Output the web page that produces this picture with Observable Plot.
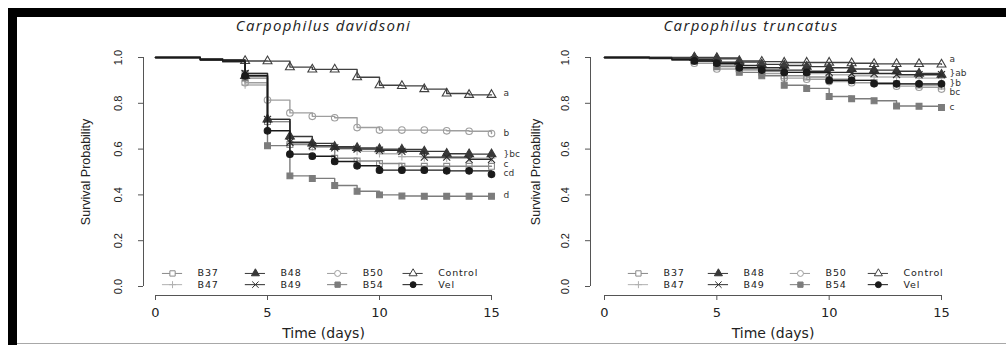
<!DOCTYPE html>
<html>
<head>
<meta charset="utf-8">
<script src="https://cdn.jsdelivr.net/npm/d3@7"></script>
<script src="https://cdn.jsdelivr.net/npm/@observablehq/plot@0.6"></script>
<style>
  html, body { margin: 0; padding: 0; background: #ffffff; }
  #wrap { position: relative; width: 1006px; height: 345px; background: #ffffff; overflow: hidden; }
  .band { position: absolute; background: #000; }
  .panel { position: absolute; top: 0; }
</style>
</head>
<body>
<div id="wrap">
  <div class="band" style="left:8px;top:8px;width:998px;height:9px;"></div>
  <div class="band" style="left:8px;top:8px;width:9px;height:337px;"></div>
  <div class="band" style="left:17px;top:343px;width:989px;height:1px;background:#a8a8a8;"></div>
  <div id="p1" class="panel" style="left:0px;"></div>
  <div id="p2" class="panel" style="left:500px;"></div>
</div>
<script>
// ---------- data ----------
const days = [0, 1, 2, 3, 4, 5, 6, 7, 8, 9, 10, 11, 12, 13, 14, 15];
const groups = ["B37", "B47", "B48", "B49", "B50", "B54", "Control", "Vel"];
const xTicks = [0, 5, 10, 15];
const yTicks = [0, 0.2, 0.4, 0.6, 0.8, 1.0];
const xTickLabels = ["0", "5", "10", "15"];
const yTickLabels = ["0.0", "0.2", "0.4", "0.6", "0.8", "1.0"];

const titleDav = "Carpophilus davidsoni";
const titleTru = "Carpophilus truncatus";
const xLabel = "Time (days)";
const yLabel = "Survival Probability";

// Carpophilus davidsoni – survival at each day
const dav_B37     = [1, 1, 0.99, 0.985, 0.93, 0.72, 0.62, 0.61, 0.56, 0.548, 0.537, 0.525, 0.525, 0.525, 0.525, 0.525];
const dav_B47     = [1, 1, 0.99, 0.985, 0.88, 0.72, 0.625, 0.61, 0.60, 0.59, 0.58, 0.567, 0.562, 0.56, 0.56, 0.56];
const dav_B48     = [1, 1, 0.99, 0.985, 0.92, 0.73, 0.655, 0.625, 0.61, 0.605, 0.60, 0.598, 0.59, 0.58, 0.578, 0.578];
const dav_B49     = [1, 1, 0.99, 0.985, 0.93, 0.73, 0.63, 0.615, 0.605, 0.60, 0.595, 0.59, 0.565, 0.565, 0.555, 0.555];
const dav_B50     = [1, 1, 0.99, 0.985, 0.89, 0.814, 0.758, 0.743, 0.737, 0.694, 0.683, 0.683, 0.683, 0.68, 0.678, 0.668];
const dav_B54     = [1, 1, 0.99, 0.98, 0.91, 0.615, 0.483, 0.472, 0.441, 0.416, 0.40, 0.395, 0.394, 0.394, 0.394, 0.394];
const dav_Control = [1, 1, 0.995, 0.99, 0.985, 0.984, 0.958, 0.948, 0.948, 0.914, 0.879, 0.876, 0.862, 0.843, 0.837, 0.837];
const dav_Vel     = [1, 1, 0.99, 0.985, 0.92, 0.68, 0.578, 0.569, 0.546, 0.527, 0.508, 0.508, 0.508, 0.505, 0.505, 0.49];

// Carpophilus truncatus – survival at each day
const tru_B37     = [1, 1, 0.998, 0.995, 0.985, 0.97, 0.95, 0.94, 0.92, 0.915, 0.905, 0.90, 0.89, 0.885, 0.88, 0.875];
const tru_B47     = [1, 1, 0.998, 0.995, 0.985, 0.965, 0.955, 0.945, 0.935, 0.93, 0.925, 0.92, 0.915, 0.915, 0.91, 0.91];
const tru_B48     = [1, 1, 1, 1, 1, 0.998, 0.98, 0.97, 0.965, 0.96, 0.955, 0.95, 0.945, 0.94, 0.93, 0.925];
const tru_B49     = [1, 1, 0.998, 0.995, 0.99, 0.98, 0.965, 0.955, 0.945, 0.94, 0.935, 0.93, 0.93, 0.925, 0.925, 0.925];
const tru_B50     = [1, 1, 0.995, 0.99, 0.975, 0.95, 0.945, 0.93, 0.91, 0.905, 0.895, 0.89, 0.885, 0.875, 0.87, 0.862];
const tru_B54     = [1, 1, 0.995, 0.99, 0.985, 0.96, 0.935, 0.92, 0.879, 0.865, 0.83, 0.82, 0.811, 0.788, 0.787, 0.782];
const tru_Control = [1, 1, 1, 0.998, 0.998, 0.994, 0.985, 0.982, 0.978, 0.978, 0.978, 0.975, 0.972, 0.972, 0.972, 0.97];
const tru_Vel     = [1, 1, 0.998, 0.99, 0.985, 0.975, 0.955, 0.945, 0.935, 0.935, 0.90, 0.90, 0.886, 0.885, 0.885, 0.885];

// significance letters and the survival level they sit at
const dav_letters  = ["a", "b", "}bc", "c", "cd", "d"];
const dav_letterY  = [0.843, 0.672, 0.576, 0.536, 0.494, 0.40];
const tru_letters  = ["a", "}ab", "}b", "bc", "c"];
const tru_letterY  = [0.991, 0.934, 0.889, 0.849, 0.782];

// legend order (column-major, 4 columns x 2 rows)
const legendOrder = ["B37", "B47", "B48", "B49", "B50", "B54", "Control", "Vel"];

// ---------- styles ----------
const styleMap = {
  B37:     {color: "#8a8a8a", symbol: "square",   filled: false},
  B47:     {color: "#b0b0b0", symbol: "plus",     filled: false},
  B48:     {color: "#383838", symbol: "triangle", filled: true},
  B49:     {color: "#2c2c2c", symbol: "times",    filled: false},
  B50:     {color: "#9e9e9e", symbol: "circle",   filled: false},
  B54:     {color: "#7c7c7c", symbol: "square",   filled: true},
  Control: {color: "#404040", symbol: "triangle", filled: false},
  Vel:     {color: "#1a1a1a", symbol: "circle",   filled: true}
};
const drawOrder = ["B47", "B50", "B37", "B54", "B48", "B49", "Control", "Vel"];

function rowsFor(series) {
  const out = [];
  groups.forEach(g => {
    series[g].forEach((v, i) => out.push({day: days[i], s: v, group: g}));
  });
  return out;
}

const davSeries = {B37: dav_B37, B47: dav_B47, B48: dav_B48, B49: dav_B49, B50: dav_B50, B54: dav_B54, Control: dav_Control, Vel: dav_Vel};
const truSeries = {B37: tru_B37, B47: tru_B47, B48: tru_B48, B49: tru_B49, B50: tru_B50, B54: tru_B54, Control: tru_Control, Vel: tru_Vel};

const SANS = "'Liberation Sans', Arial, sans-serif";
const WIDE = "'DejaVu Sans', 'Liberation Sans', sans-serif";
const INK = "#222222";

function panel(cfg) {
  const rows = rowsFor(cfg.series);
  const marks = [];

  // survival step curves + markers
  drawOrder.forEach(g => {
    const st = styleMap[g];
    const gr = rows.filter(d => d.group === g);
    marks.push(Plot.line(gr, {x: "day", y: "s", stroke: st.color, strokeWidth: 1.4, curve: "step-after"}));
    marks.push(Plot.dot(gr.filter(d => d.day >= 4), {
      x: "day", y: "s", symbol: st.symbol, r: st.symbol === "plus" ? 2.6 : 3.3,
      fill: st.filled ? st.color : "none", stroke: st.color, strokeWidth: 1.1
    }));
  });

  // axes (R style, detached)
  marks.push(Plot.ruleX([0], {x: d => d, y1: 0, y2: 1, dx: cfg.yAxisDx, stroke: "#555", strokeWidth: 1}));
  marks.push(Plot.ruleY(yTicks, {y: d => d, x1: 0, x2: 0, dx: cfg.yAxisDx, insetLeft: -5, insetRight: 0, stroke: "#555"}));
  marks.push(Plot.text(yTicks, {x: 0, y: d => d, dx: cfg.yTickDx, rotate: -90,
    text: (d, i) => yTickLabels[i], fontSize: 11, fontFamily: SANS, fill: INK}));
  marks.push(Plot.ruleY([0], {y: d => d, x1: 0, x2: 15, dy: 9, stroke: "#555"}));
  marks.push(Plot.ruleX(xTicks, {x: d => d, y1: 0, y2: 0, dy: 9, insetTop: 0, insetBottom: -5, stroke: "#555"}));
  marks.push(Plot.text(xTicks, {x: d => d, y: 0, dy: 26,
    text: (d, i) => xTickLabels[i], fontSize: 13, fontFamily: WIDE, fill: INK}));

  // labels
  marks.push(Plot.text([xLabel], {x: 7.5, y: 0, dy: 47, fontSize: 14, fontFamily: WIDE, fill: INK}));
  marks.push(Plot.text([yLabel], {x: 0, y: 0.5, dx: cfg.yLabelDx, rotate: -90, fontSize: 12.5, fontFamily: SANS, fill: INK}));
  marks.push(Plot.text([cfg.title], {x: 7.5, y: 1, dy: -31, dx: cfg.titleDx, fontSize: 15, fontStyle: "italic",
    fontFamily: "'Open Sans', 'Noto Sans', sans-serif", fill: INK}));

  // letters
  marks.push(Plot.text(cfg.letters, {x: 15, y: (d, i) => cfg.letterY[i], text: d => d, textAnchor: "start",
    dx: cfg.letterDx, fontSize: 9, fontFamily: WIDE, fill: "#333"}));

  // legend
  const leg = legendOrder.map((g, i) => ({g, col: Math.floor(i / 2), row: i % 2}));
  const lx = d => cfg.legendCols[d.col];
  const ly = d => cfg.legendRows[d.row];
  leg.forEach(d => {
    const st = styleMap[d.g];
    marks.push(Plot.ruleY([d], {y: ly, x1: d2 => lx(d2) - 0.45, x2: d2 => lx(d2) + 0.45, stroke: st.color, strokeWidth: 1}));
    marks.push(Plot.dot([d], {x: lx, y: ly, symbol: st.symbol, r: st.symbol === "plus" ? 2.4 : 3,
      fill: st.filled ? st.color : "white", stroke: st.color, strokeWidth: 1}));
  });
  marks.push(Plot.text(leg, {x: d => lx(d) + cfg.legendTextGap, y: ly, text: "g", textAnchor: "start",
    fontSize: 9.5, fontFamily: WIDE, fill: INK}));

  const svg = Plot.plot({
    width: cfg.width, height: 345,
    marginLeft: cfg.marginLeft, marginRight: cfg.marginRight, marginTop: 57, marginBottom: 59,
    x: {domain: [0, 15], axis: null},
    y: {domain: [0, 1], axis: null},
    style: {background: "transparent", overflow: "visible", fontFamily: SANS},
    marks
  });

  // widen a few texts (the reference is horizontally stretched)
  d3.select(svg).selectAll("text").each(function () {
    const t = this.textContent;
    if (t === cfg.title) this.style.letterSpacing = "1.3px";
    else if (legendOrder.includes(t)) this.style.letterSpacing = "0.8px";
  });
  return svg;
}

document.getElementById("p1").appendChild(panel({
  series: davSeries, title: titleDav, letters: dav_letters, letterY: dav_letterY,
  width: 500, marginLeft: 155, marginRight: 9,
  yAxisDx: -12, yTickDx: -37, yLabelDx: -70, titleDx: 0, letterDx: 12,
  legendCols: [0.76, 4.46, 8.13, 11.5], legendRows: [0.057, 0.008], legendTextGap: 1.12
}));
document.getElementById("p2").appendChild(panel({
  series: truSeries, title: titleTru, letters: tru_letters, letterY: tru_letterY,
  width: 506, marginLeft: 104, marginRight: 65,
  yAxisDx: -14, yTickDx: -39, yLabelDx: -69, titleDx: -22, letterDx: 8,
  legendCols: [1.51, 5.07, 8.72, 12.19], legendRows: [0.057, 0.008], legendTextGap: 1.12
}));
</script>
</body>
</html>
